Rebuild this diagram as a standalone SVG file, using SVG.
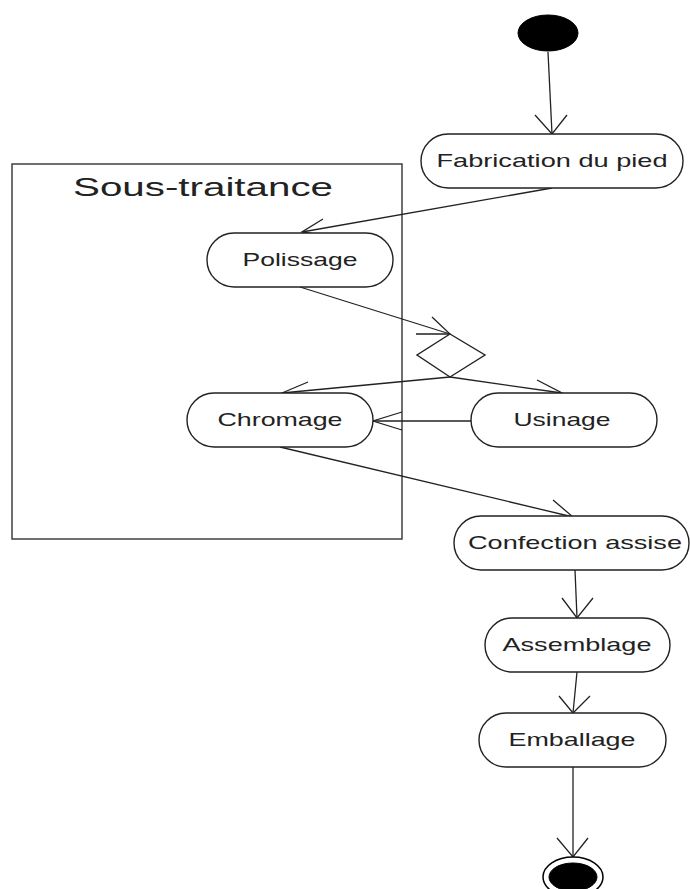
<svg xmlns="http://www.w3.org/2000/svg" width="690" height="889" viewBox="0 0 690 889">
<style>
.bg{fill:#ffffff}
.node{fill:#ffffff;stroke:#222;stroke-width:1.4}
.frame{fill:none;stroke:#333;stroke-width:1.4}
.edge{fill:none;stroke:#222;stroke-width:1.3}
.head{fill:none;stroke:#222;stroke-width:1.3;stroke-linejoin:miter}
.lbl{font-family:"Liberation Sans",Arial,sans-serif;font-size:19px;fill:#222;text-anchor:middle}
.title{font-family:"Liberation Sans",Arial,sans-serif;font-size:26px;fill:#222;text-anchor:middle}
.solid{fill:#000;stroke:#000;stroke-width:1}
</style>
<rect class="bg" x="0" y="0" width="690" height="889"/>

<g id="sous-traitance">
<rect class="frame" x="12" y="164" width="390" height="375"/>
<text class="title" x="203" y="196" textLength="260" lengthAdjust="spacingAndGlyphs">Sous-traitance</text>
</g>

<g id="connectors">
<path class="edge" d="M548,52 L552,134"/>
<path class="head" d="M535,115 L552,134 L567,115"/>

<path class="edge" d="M552,188 L302,232"/>
<path class="head" d="M323,219 L302,232 L333,237"/>

<path class="edge" d="M300,287 L450,334"/>
<path class="head" d="M432,317 L450,334 L416,334"/>

<path class="edge" d="M450,377 L282,393"/>
<path class="head" d="M308,382 L282,393 L313,400"/>

<path class="edge" d="M450,377 L562,393"/>
<path class="head" d="M537,380 L562,393 L530,398"/>

<path class="edge" d="M471,421 L373,421"/>
<path class="head" d="M402,412 L373,421 L402,430"/>

<path class="edge" d="M280,447 L573,517"/>
<path class="head" d="M553,500 L573,517 L549,517"/>

<path class="edge" d="M575,570 L577,618"/>
<path class="head" d="M562,598 L577,618 L593,598"/>

<path class="edge" d="M577,672 L573,713"/>
<path class="head" d="M559,696 L573,713 L590,696"/>

<path class="edge" d="M573,767 L573,857"/>
<path class="head" d="M557,838 L573,857 L588,838"/>
</g>

<g id="start">
<ellipse class="solid" cx="548" cy="33" rx="30" ry="18"/>
</g>

<g id="fabrication">
<rect class="node" x="421" y="134" width="262" height="54" rx="27" ry="27"/>
<text class="lbl" x="552" y="167" textLength="231" lengthAdjust="spacingAndGlyphs">Fabrication du pied</text>
</g>

<g id="polissage">
<rect class="node" x="207" y="233" width="186" height="54" rx="27" ry="27"/>
<text class="lbl" x="300" y="266" textLength="115" lengthAdjust="spacingAndGlyphs">Polissage</text>
</g>

<g id="decision">
<polygon class="node" points="450,334 485,355 450,377 417,355"/>
</g>

<g id="chromage">
<rect class="node" x="187" y="393" width="186" height="54" rx="27" ry="27"/>
<text class="lbl" x="280" y="426" textLength="125" lengthAdjust="spacingAndGlyphs">Chromage</text>
</g>

<g id="usinage">
<rect class="node" x="471" y="393" width="186" height="54" rx="27" ry="27"/>
<text class="lbl" x="562" y="426" textLength="97" lengthAdjust="spacingAndGlyphs">Usinage</text>
</g>

<g id="confection">
<rect class="node" x="454" y="516" width="235" height="54" rx="27" ry="27"/>
<text class="lbl" x="575" y="549" textLength="214" lengthAdjust="spacingAndGlyphs">Confection assise</text>
</g>

<g id="assemblage">
<rect class="node" x="485" y="618" width="185" height="54" rx="27" ry="27"/>
<text class="lbl" x="577" y="651" textLength="149" lengthAdjust="spacingAndGlyphs">Assemblage</text>
</g>

<g id="emballage">
<rect class="node" x="479" y="713" width="187" height="54" rx="27" ry="27"/>
<text class="lbl" x="572" y="746" textLength="127" lengthAdjust="spacingAndGlyphs">Emballage</text>
</g>

<g id="end">
<ellipse cx="573" cy="877" rx="30" ry="20" fill="#ffffff" stroke="#000" stroke-width="1.5"/>
<ellipse class="solid" cx="573" cy="877" rx="24" ry="14"/>
</g>
</svg>
